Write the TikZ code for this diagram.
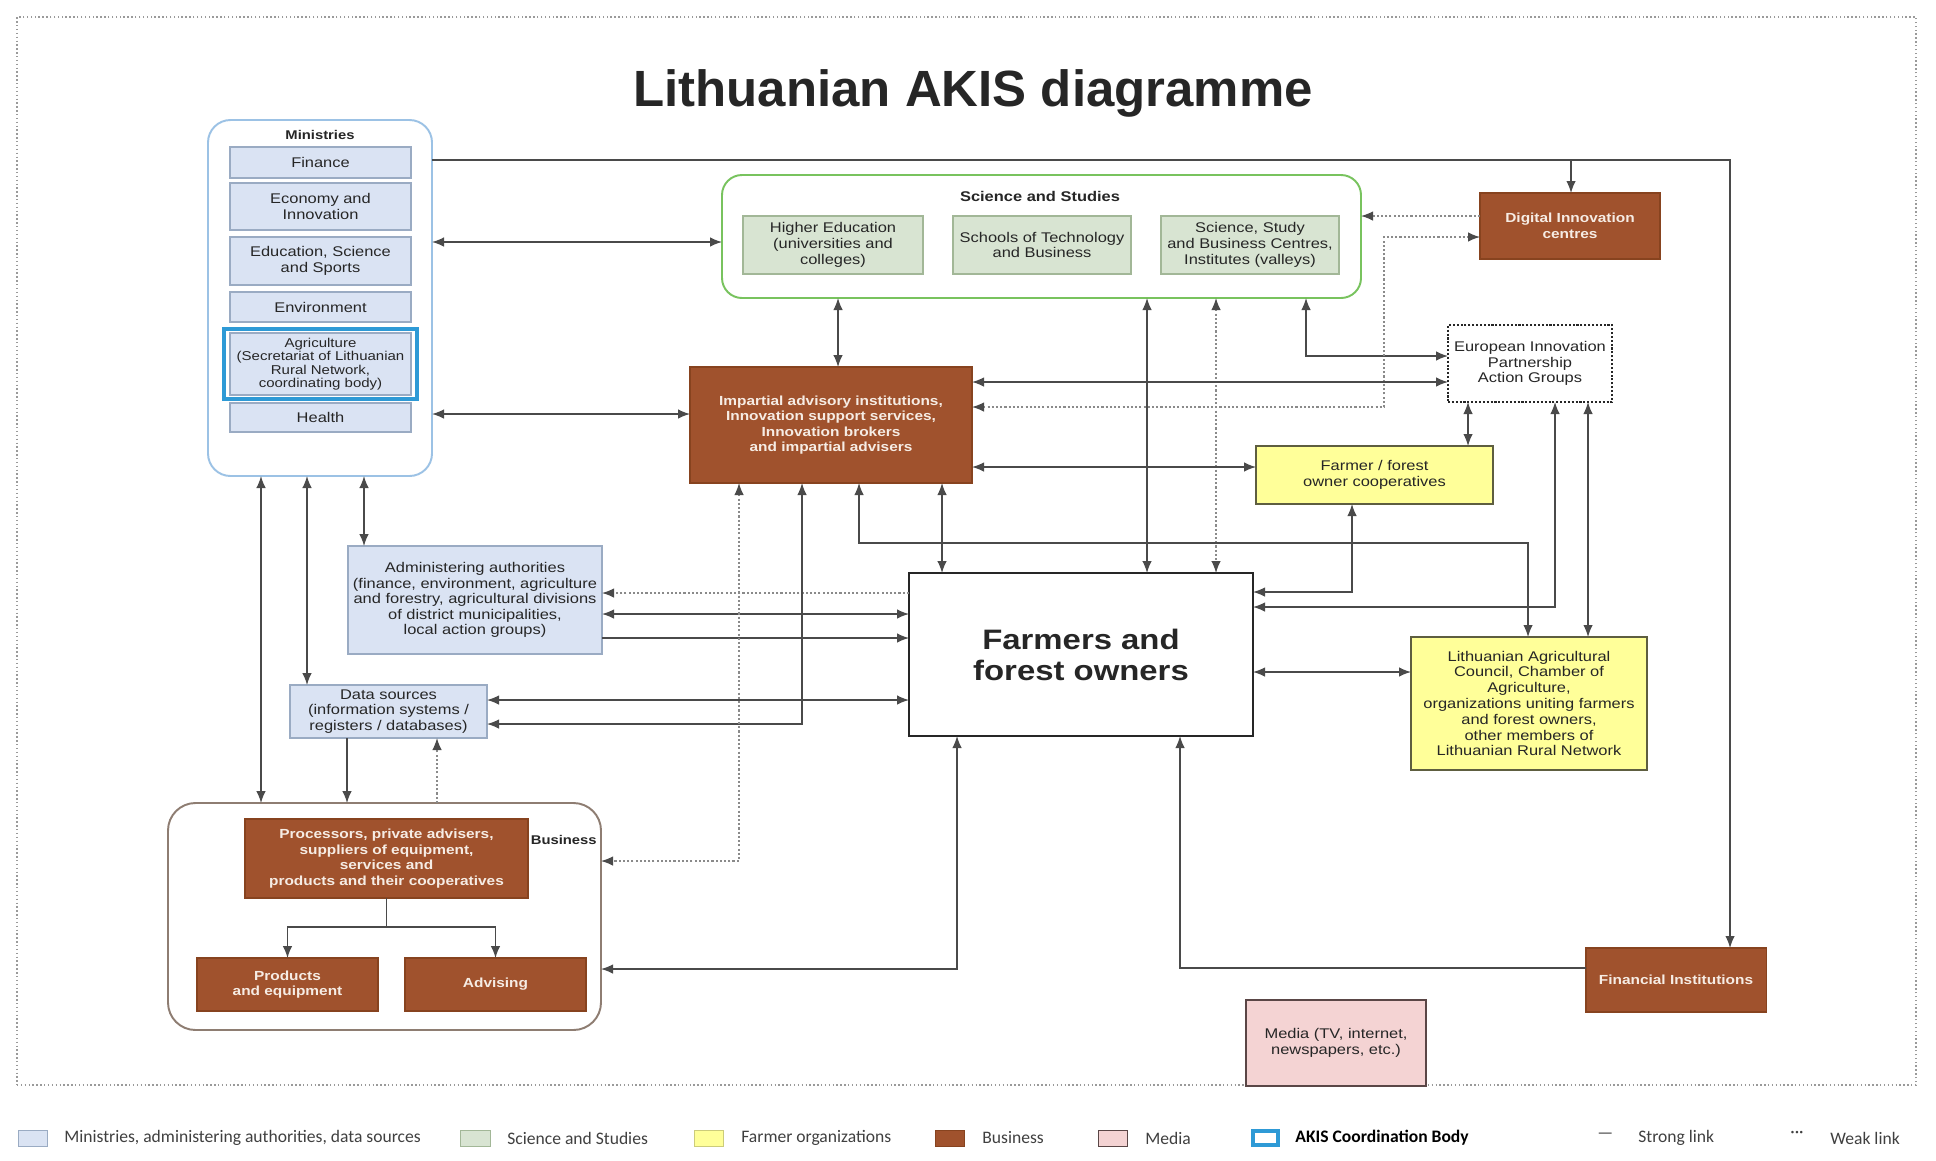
\documentclass[tikz,border=0pt]{standalone}
\usepackage{fontspec}
\setmainfont{Liberation Sans}
\newfontfamily\dfont{Liberation Sans}[FakeStretch=1.17]
\newfontfamily\legfont{Carlito}
\usetikzlibrary{arrows.meta}
\definecolor{minfill}{HTML}{DAE3F3}
\definecolor{minline}{HTML}{9AABC3}
\definecolor{mincont}{HTML}{9CC2E5}
\definecolor{akis}{HTML}{2E9AD6}
\definecolor{scifill}{HTML}{D8E4D2}
\definecolor{sciline}{HTML}{A2B797}
\definecolor{scicont}{HTML}{78C35E}
\definecolor{yel}{HTML}{FFFF99}
\definecolor{yelline}{HTML}{5E5E40}
\definecolor{brn}{HTML}{A0522D}
\definecolor{brnline}{HTML}{87431F}
\definecolor{brntext}{HTML}{F6ECE4}
\definecolor{pnk}{HTML}{F4D3D3}
\definecolor{pnkline}{HTML}{5A4646}
\definecolor{buscont}{HTML}{8E7D72}
\definecolor{lc}{HTML}{4A4A4A}
\definecolor{wc}{HTML}{8A8A8A}
\definecolor{txt}{HTML}{262626}
\definecolor{legtxt}{HTML}{404040}
\definecolor{framec}{HTML}{9A9A9A}
\newcommand\rbox[7]{\node[#2, minimum width={(#5-#3)*0.02cm}, minimum height={(#6-#4)*0.02cm}] (#1) at ({(#3+#5)/2},{(#4+#6)/2}) {#7};}
\begin{document}
\begin{tikzpicture}[x=0.02cm, y=-0.02cm,
  base/.style={inner sep=0pt, outer sep=0pt, align=center, text=txt, font=\dfont\fontsize{8}{9}\selectfont},
  mbox/.style={base, draw=minline, fill=minfill, line width=0.6pt},
  sbox/.style={base, draw=sciline, fill=scifill, line width=0.6pt},
  ybox/.style={base, draw=yelline, fill=yel, line width=0.9pt},
  bbox/.style={base, draw=brnline, fill=brn, line width=0.6pt, text=brntext, font=\dfont\bfseries\fontsize{7.5}{8.8}\selectfont},
  cont/.style={inner sep=0pt, outer sep=0pt, rounded corners=0.45cm, line width=1.1pt, fill=white},
  lab/.style={inner sep=0pt, text=txt, font=\dfont\bfseries\fontsize{7.2}{8}\selectfont},
  lk/.style={draw=lc, line width=0.75pt},
  lk2/.style={lk, {Latex[length=2.4mm,width=1.9mm]}-{Latex[length=2.4mm,width=1.9mm]}},
  lk1/.style={lk, -{Latex[length=2.4mm,width=1.9mm]}},
  wk/.style={draw=wc, line width=0.75pt, dash pattern=on 1.2pt off 1.2pt},
  wk2/.style={wk, {Latex[length=2.4mm,width=1.9mm,color=lc]}-{Latex[length=2.4mm,width=1.9mm,color=lc]}},
  wk1/.style={wk, -{Latex[length=2.4mm,width=1.9mm,color=lc]}},
  legt/.style={anchor=west, inner sep=0pt, text=legtxt, font=\legfont\fontsize{10}{12}\selectfont},
  legsq/.style={inner sep=0pt, outer sep=0pt, line width=0.5pt}
]
\useasboundingbox (0,0) rectangle (1936,1160);
\fill[white] (0,0) rectangle (1936,1160);
\rbox{frame}{draw=framec, line width=0.8pt, dash pattern=on 0.8pt off 1.4pt, inner sep=0pt}{17}{17}{1916}{1085}{}

\node[font=\fontsize{29}{34}\selectfont\bfseries, text=txt] (title) at (973,93) {Lithuanian AKIS diagramme};

% Ministries
\rbox{min}{cont, draw=mincont}{208}{120}{432}{476}{}
\node[lab] (minl) at (320,135) {Ministries};
\rbox{fin}{mbox}{230}{147}{411}{178}{Finance}
\rbox{eco}{mbox}{230}{183}{411}{230}{Economy and\\Innovation}
\rbox{edu}{mbox}{230}{237}{411}{285}{Education, Science\\and Sports}
\rbox{env}{mbox}{230}{292}{411}{322}{Environment}
\rbox{agr}{mbox, font=\dfont\fontsize{7.3}{7.6}\selectfont}{230}{333}{411}{395}{Agriculture\\(Secretariat of Lithuanian\\Rural Network,\\coordinating body)}
\rbox{agf}{draw=akis, line width=2.6pt, inner sep=0pt, outer sep=0pt}{224}{329}{417}{399}{}
\rbox{hea}{mbox}{230}{403}{411}{432}{Health}

% Science and Studies
\rbox{sci}{cont, draw=scicont, rounded corners=0.4cm}{722}{175}{1361}{298}{}
\node[lab, font=\dfont\bfseries\fontsize{8}{9}\selectfont] (scil) at (1040,196) {Science and Studies};
\rbox{hed}{sbox}{743}{216}{923}{274}{Higher Education\\(universities and\\colleges)}
\rbox{sch}{sbox}{953}{216}{1131}{274}{Schools of Technology\\and Business}
\rbox{ssb}{sbox}{1161}{216}{1339}{274}{Science, Study\\and Business Centres,\\Institutes (valleys)}

% Other actors
\rbox{dig}{bbox}{1480}{193}{1660}{259}{Digital Innovation\\centres}
\rbox{eip}{base, draw=txt, line width=0.8pt, dash pattern=on 1.2pt off 1pt, fill=white}{1448}{325}{1612}{402}{European Innovation\\Partnership\\Action Groups}
\rbox{imp}{bbox}{690}{367}{972}{483}{Impartial advisory institutions,\\Innovation support services,\\Innovation brokers\\and impartial advisers}
\rbox{coop}{ybox}{1256}{446}{1493}{504}{Farmer / forest\\owner cooperatives}
\rbox{adm}{mbox, font=\dfont\fontsize{8}{8.8}\selectfont}{348}{546}{602}{654}{Administering authorities\\(finance, environment, agriculture\\and forestry, agricultural divisions\\of district municipalities,\\local action groups)}
\rbox{far}{base, draw=txt, line width=1pt, fill=white, font=\dfont\bfseries\fontsize{16}{17.6}\selectfont}{909}{573}{1253}{736}{Farmers and\\forest owners}
\rbox{lac}{ybox}{1411}{637}{1647}{770}{Lithuanian Agricultural\\Council, Chamber of\\Agriculture,\\organizations uniting farmers\\and forest owners,\\other members of\\Lithuanian Rural Network}
\rbox{dat}{mbox, font=\dfont\fontsize{8}{8.7}\selectfont}{290}{685}{487}{738}{Data sources\\(information systems /\\registers / databases)}

% Business
\rbox{bus}{cont, draw=buscont, rounded corners=0.55cm}{168}{803}{601}{1030}{}
\node[lab, anchor=east] (busl) at (597,840) {Business};
\rbox{pro}{bbox}{245}{819}{528}{898}{Processors, private advisers,\\suppliers of equipment,\\services and\\products and their cooperatives}
\rbox{prd}{bbox}{197}{958}{378}{1011}{Products\\and equipment}
\rbox{adv}{bbox}{405}{958}{586}{1011}{Advising}
\rbox{fini}{bbox}{1586}{948}{1766}{1012}{Financial Institutions}
\rbox{med}{base, draw=pnkline, fill=pnk, line width=0.9pt}{1246}{1000}{1426}{1086}{Media (TV, internet,\\newspapers, etc.)}

% Connectors
\coordinate (td) at (1571,160);
\draw[lk1] (min.east |- 0,160) -| (fini.north -| 1730,0);
\draw[lk1] (td) -- (dig.north -| td);
\draw[lk2] (min.east |- 0,242) -- (sci.west |- 0,242);
\draw[lk2] (min.east |- 0,414) -- (imp.west |- 0,414);
\draw[lk2] (min.south -| 261,0) -- (bus.north -| 261,0);
\draw[lk2] (min.south -| 307,0) -- (dat.north -| 307,0);
\draw[lk2] (min.south -| 364,0) -- (adm.north -| 364,0);
\draw[lk1] (dat.south -| 347,0) -- (bus.north -| 347,0);
\draw[wk1] (bus.north -| 437,0) -- (dat.south -| 437,0);
\draw[lk2] (sci.south -| 838,0) -- (imp.north -| 838,0);
\draw[lk2] (sci.south -| 1147,0) -- (far.north -| 1147,0);
\draw[wk2] (sci.south -| 1216,0) -- (far.north -| 1216,0);
\draw[lk2] (sci.south -| 1306,0) |- (eip.west |- 0,356);
\draw[wk1] (dig.west |- 0,216) -- (sci.east |- 0,216);
\draw[wk2] (imp.east |- 0,407) -| (1384,237) -- (dig.west |- 0,237);
\draw[lk2] (imp.east |- 0,382) -- (eip.west |- 0,382);
\draw[lk2] (imp.east |- 0,467) -- (coop.west |- 0,467);
\draw[lk2] (eip.south -| 1468,0) -- (coop.north -| 1468,0);
\draw[lk2] (eip.south -| 1555,0) |- (far.east |- 0,607);
\draw[lk2] (eip.south -| 1588,0) -- (lac.north -| 1588,0);
\draw[lk2] (coop.south -| 1352,0) |- (far.east |- 0,592);
\draw[lk2] (imp.south -| 859,0) |- (1528,543) -- (lac.north -| 1528,0);
\draw[lk2] (imp.south -| 942,0) -- (far.north -| 942,0);
\draw[lk2] (far.east |- 0,672) -- (lac.west |- 0,672);
\draw[wk1] (far.west |- 0,593) -- (adm.east |- 0,593);
\draw[lk2] (adm.east |- 0,614) -- (far.west |- 0,614);
\draw[lk1] (adm.east |- 0,638) -- (far.west |- 0,638);
\draw[lk2] (dat.east |- 0,700) -- (far.west |- 0,700);
\draw[lk2] (imp.south -| 802,0) |- (dat.east |- 0,724);
\draw[wk2] (imp.south -| 739,0) |- (bus.east |- 0,861);
\draw[lk2] (bus.east |- 0,969) -| (far.south -| 957,0);
\draw[lk1] (fini.west |- 0,968) -| (far.south -| 1180,0);
\coordinate (pj) at (pro.south |- 0,927);
\draw[lk] (pro.south) -- (pj);
\draw[lk1] (pj) -| (prd.north);
\draw[lk1] (pj) -| (adv.north);

% Legend
\rbox{l1}{legsq, draw=minline, fill=minfill}{18}{1130}{47}{1146}{}
\node[legt] (t1) at (64,1138) {Ministries, administering authorities, data sources};
\rbox{l2}{legsq, draw=sciline, fill=scifill}{460}{1130}{490}{1146}{}
\node[legt] (t2) at (507,1138) {Science and Studies};
\rbox{l3}{legsq, draw=yel!80!black, fill=yel}{694}{1130}{723}{1146}{}
\node[legt] (t3) at (741,1138) {Farmer organizations};
\rbox{l4}{legsq, draw=brnline, fill=brn}{935}{1130}{964}{1146}{}
\node[legt] (t4) at (982,1138) {Business};
\rbox{l5}{legsq, draw=pnkline, fill=pnk}{1098}{1130}{1127}{1146}{}
\node[legt] (t5) at (1145,1138) {Media};
\rbox{l6}{legsq, draw=akis, line width=2pt, fill=white}{1253}{1131}{1278}{1145}{}
\node[legt, text=black, font=\legfont\bfseries\fontsize{10}{12}\selectfont] (t6) at (1295,1138) {AKIS Coordination Body};
\node[legt] (t7a) at (1597,1136) {—};
\node[legt] (t7) at (1638,1138) {Strong link};
\node[legt] (t8a) at (1790,1134) {···};
\node[legt] (t8) at (1830,1138) {Weak link};
\end{tikzpicture}
\end{document}
